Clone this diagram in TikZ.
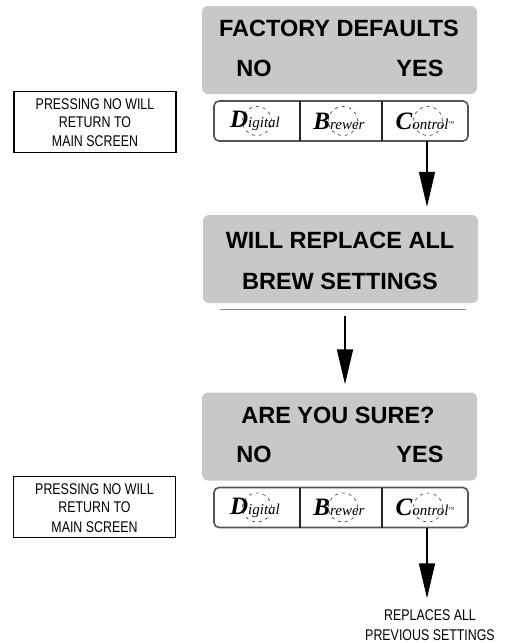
\documentclass[tikz,border=0pt]{standalone}
\usepackage{fontspec}
\setmainfont{Liberation Sans}
\newfontfamily\narrowfont[FakeStretch=0.8]{Liberation Sans}
\newfontfamily\logofont{Liberation Serif}
\usetikzlibrary{calc,arrows.meta,positioning}
\definecolor{panelgray}{RGB}{198,200,202}
\definecolor{stripgray}{RGB}{85,85,85}
\tikzset{
  screen/.style={rectangle, rounded corners=6pt, fill=panelgray, minimum width=275pt,
                 minimum height=88pt, inner sep=0pt},
  screentext/.style={inner sep=0pt, font=\fontsize{23.5}{28}\selectfont\bfseries},
  strip/.style={rectangle, rounded corners=5pt, draw=stripgray, fill=white, line width=1.6pt,
                minimum width=254pt, minimum height=40pt, inner sep=0pt},
  stripline/.style={line width=1.4pt, black!85},
  logotext/.style={inner sep=0pt, font=\logofont\fontsize{15}{18}\selectfont\itshape},
  logoring/.style={circle, draw=black!80, line width=0.6pt, dash pattern=on 3pt off 4pt,
                   minimum size=29pt, inner sep=0pt},
  notebox/.style={rectangle, draw=black, line width=1.5pt, minimum width=162pt,
                  minimum height=61pt, inner sep=0pt},
  notetext/.style={inner sep=0pt, font=\narrowfont\fontsize{15.5}{19}\selectfont},
  flow/.style={-{Triangle[length=35pt,width=16pt]}, line width=1.5pt, black},
}
\newcommand{\biglogo}[1]{{\fontsize{25}{25}\selectfont\bfseries #1}}
\begin{document}
\begin{tikzpicture}[x=1pt,y=-1pt]
  \useasboundingbox (0,0) rectangle (505,643);
  % ---- screens ----
  \node[screen] (screenA) at (339.5,50) {};
  \node[screen] (screenB) at (340.5,259) {};
  \node[screen] (screenC) at (339.5,436.5) {};
  \node[screentext] (factory) at (339,28) {FACTORY DEFAULTS};
  \node[screentext] (noA) at (254,68) {NO};
  \node[screentext] (yesA) at (420,68) {YES};
  \node[screentext] (replace) at (340,240) {WILL REPLACE ALL};
  \node[screentext] (brew) at (340,281) {BREW SETTINGS};
  \node[screentext] (sure) at (338,415) {ARE YOU SURE?};
  \node[screentext] (noC) at (254,454) {NO};
  \node[screentext] (yesC) at (420,454) {YES};
  % ---- button strips ----
  \foreach \s/\y in {A/121,C/507.5} {
    \node[strip] (strip\s) at (341,\y) {};
    \draw[stripline] (300,\y-20) -- (300,\y+20) (382,\y-20) -- (382,\y+20);
    \node[logoring] (ringD\s) at (257,\y) {};
    \node[logoring] (ringB\s) at (343,\y) {};
    \node[logoring] (ringC\s) at (428,\y) {};
    \node[logotext] (digital\s) at (255,\y) {\biglogo{D}igital};
    \node[logotext] (brewer\s) at (339,\y) {\biglogo{B}rewer};
    \node[logotext] (control\s) at (425,\y) {\biglogo{C}ontrol\raisebox{4pt}{\fontsize{6}{6}\selectfont ™}};
    \coordinate (out\s) at (427,\y+20);
  }
  % ---- notes at the left ----
  \node[notebox] (noteA) at (95,122) {};
  \node[notetext] (noteAa) at (95,104) {PRESSING NO WILL};
  \node[notetext] (noteAb) at (95,122) {RETURN TO};
  \node[notetext] (noteAc) at (95,141) {MAIN SCREEN};
  \node[notebox] (noteC) at (94.5,507) {};
  \node[notetext] (noteCa) at (94.5,489) {PRESSING NO WILL};
  \node[notetext] (noteCb) at (94.5,507) {RETURN TO};
  \node[notetext] (noteCc) at (94.5,527) {MAIN SCREEN};
  % ---- rule under the middle screen ----
  \node[minimum width=246pt, minimum height=0.8pt, inner sep=0pt, fill=black!45] (rule) at (343,309) {};
  \coordinate (ruleout) at (345,316);
  % ---- last label ----
  \node[notetext] (lastA) at (430,615) {REPLACES ALL};
  \node[notetext] (lastB) at (430,635) {PREVIOUS SETTINGS};
  % ---- arrows ----
  \draw[flow, shorten >=8pt] (outA) -- (outA |- screenB.north);
  \draw[flow, shorten >=8pt] (ruleout) -- (ruleout |- screenC.north);
  \draw[flow, shorten >=11pt] (outC) -- (outC |- lastA.north);
\end{tikzpicture}
\end{document}
